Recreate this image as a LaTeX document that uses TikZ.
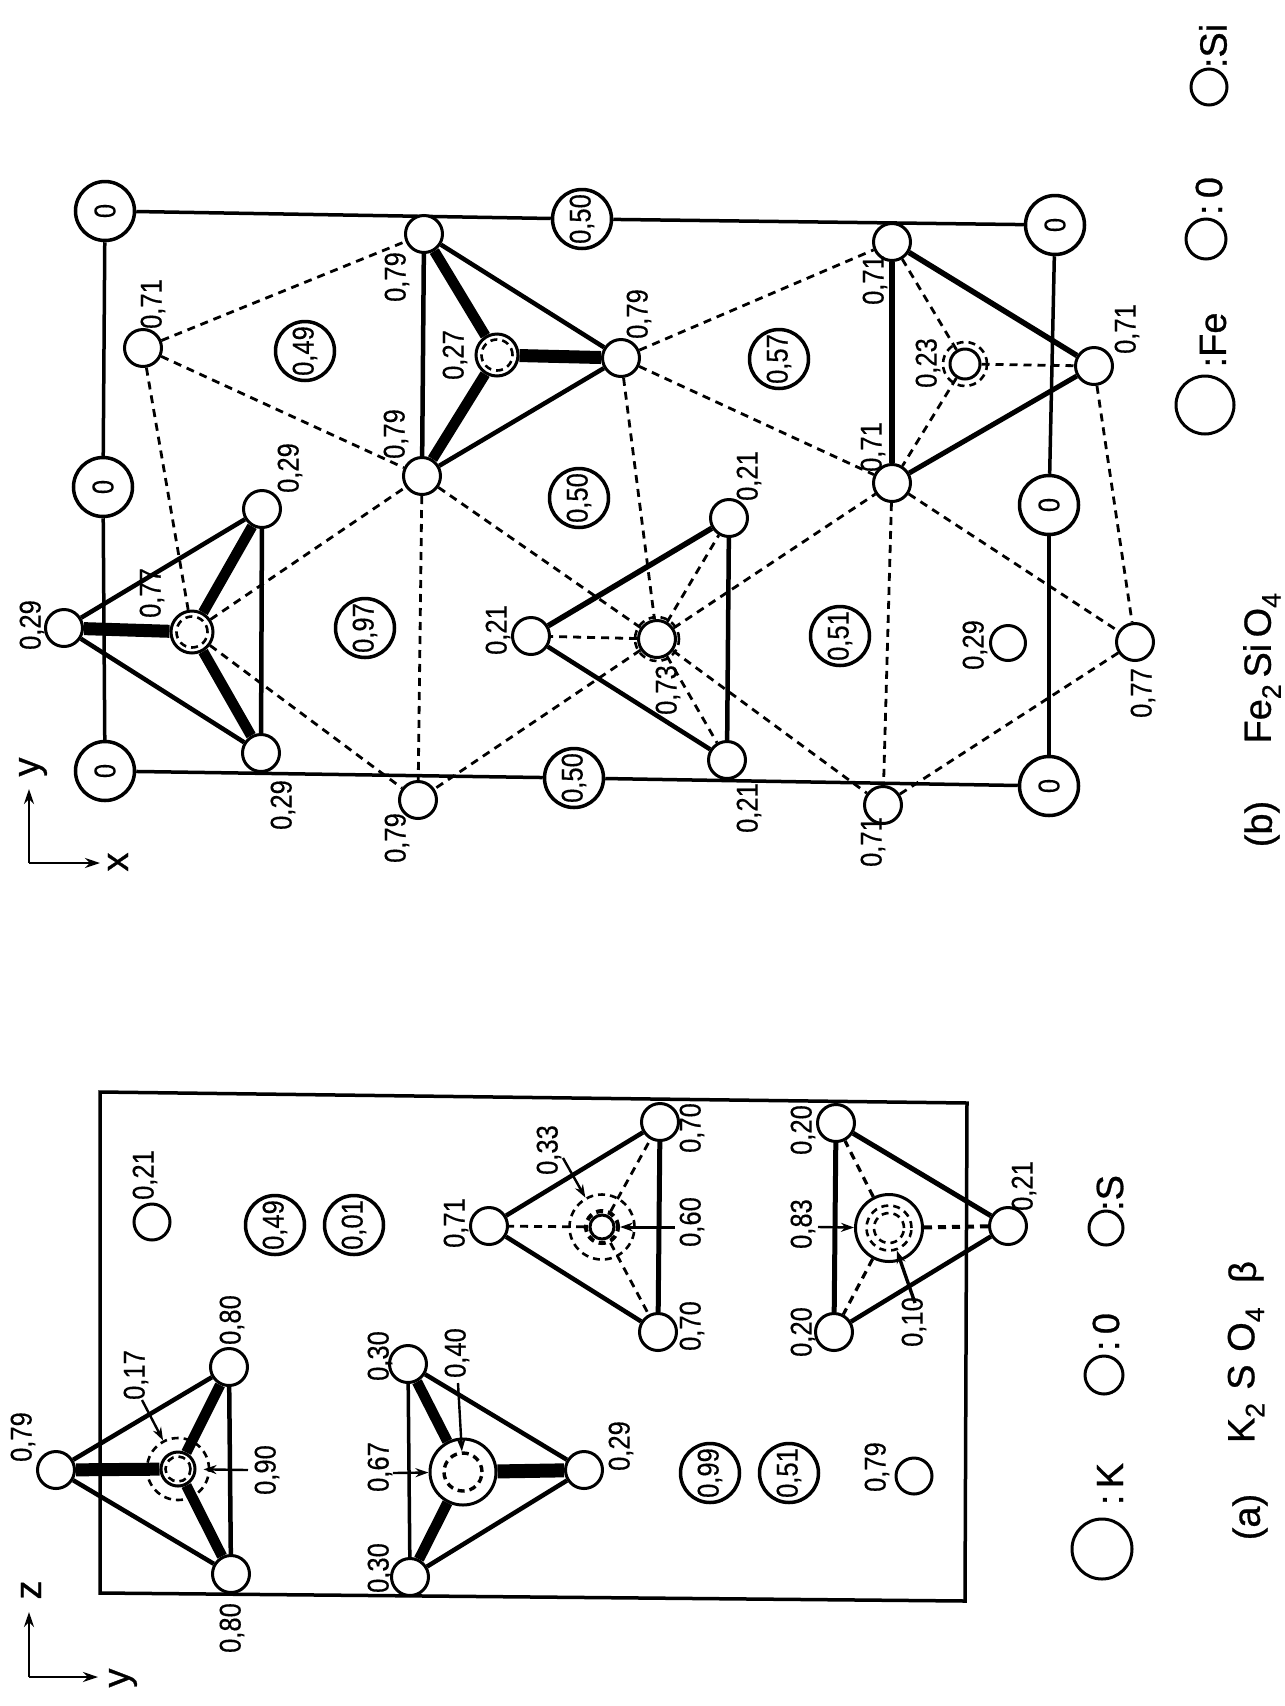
\documentclass[tikz,border=0pt]{standalone}
\usepackage{fontspec}
\usetikzlibrary{arrows.meta}
\newfontfamily\numfont[FakeStretch=0.85,FakeBold=0.4]{Liberation Sans}
\newfontfamily\capfont[FakeBold=0.7]{Liberation Sans}
\pgfdeclarelayer{back}
\pgfsetlayers{back,main}
\tikzset{
  atom/.style={circle, draw, fill=white, line width=3pt, inner sep=0pt, minimum size=37pt},
  ring/.style={circle, draw, line width=2.6pt, dash pattern=on 7pt off 5pt, inner sep=0pt},
  ion/.style={circle, draw, fill=white, line width=3.5pt, inner sep=0pt, minimum size=59pt, rotate=90, font=\numfont\fontsize{30}{30}\selectfont},
  val/.style={rotate=90, inner sep=0pt, font=\numfont\fontsize{30}{30}\selectfont},
  bigtext/.style={rotate=90, inner sep=0pt, font=\capfont\fontsize{38}{38}\selectfont},
  frame/.style={line width=3.5pt},
  side/.style={line width=4.5pt},
  bond/.style={line width=10.5pt},
  dashline/.style={line width=2.8pt, dash pattern=on 8pt off 6pt},
  pointer/.style={line width=2.4pt, -{Stealth[length=13pt,width=9pt]}},
  axis/.style={line width=2.8pt, -{Stealth[length=15pt,width=10pt]}}
}
\begin{document}
\begin{tikzpicture}[x=1pt,y=-1pt]
    \useasboundingbox (0,0) rectangle (1285,1706);
    % (b) cell
    \node[ion] (O1) at (105,211) {0};
    \node[ion] (O2) at (103,487) {0};
    \node[ion] (O3) at (105,771) {0};
    \node[ion] (O4) at (1055,225) {0};
    \node[ion] (O5) at (1049,505) {0};
    \node[ion] (O6) at (1049,786) {0};
    \node[ion] (H1) at (582,219) {0,50};
    \node[ion] (H2) at (574,778) {0,50};
    \node[ion] (H3) at (305,351) {0,49};
    \node[ion] (H4) at (779,359) {0,57};
    \node[ion] (H5) at (579,498) {0,50};
    \node[ion] (H6) at (365,628) {0,97};
    \node[ion] (H7) at (840,636) {0,51};
    \node[atom] (A1) at (143,348) {};
    \node[atom] (A2) at (424,234) {};
    \node[atom] (A3) at (621,358) {};
    \node[atom] (A4) at (422,476) {};
    \node[atom, minimum size=42pt] (A5) at (497,355) {};
    \node[ring, minimum size=31pt] (A5i) at (497,355) {};
    \node[atom] (B1) at (262,509) {};
    \node[atom] (B2) at (64,628) {};
    \node[atom, minimum size=42pt] (B3) at (192,632) {};
    \node[ring, minimum size=31pt] (B3i) at (192,632) {};
    \node[atom] (B4) at (261,753) {};
    \node[atom] (C1) at (729,518) {};
    \node[atom] (C2) at (531,636) {};
    \node[atom] (C3) at (657,639) {};
    \node[ring, minimum size=44pt] (C3o) at (657,639) {};
    \node[atom] (C4) at (727,760) {};
    \node[atom] (D1) at (418,800) {};
    \node[atom] (D2) at (883,805) {};
    \node[atom] (E1) at (892,242) {};
    \node[atom] (E2) at (1094,366) {};
    \node[atom] (E3) at (892,483) {};
    \node[atom, minimum size=30pt] (E4) at (965,364) {};
    \node[ring, minimum size=44pt] (E4o) at (965,364) {};
    \node[atom] (F1) at (1135,642) {};
    \node[atom, minimum size=35pt] (F2) at (1008,643) {};
    \begin{pgfonlayer}{back}
    \draw[frame] (O1) -- (O2);
    \draw[frame] (O2) -- (O3);
    \draw[frame] (O4) -- (O5);
    \draw[frame] (O5) -- (O6);
    \draw[frame] (O1) -- (H1);
    \draw[frame] (H1) -- (O4);
    \draw[frame] (O3) -- (H2);
    \draw[frame] (H2) -- (O6);
    \end{pgfonlayer}
    \draw[side] (A2) -- (A3);
    \draw[side] (A3) -- (A4);
    \draw[side] (A2) -- (A4);
    \draw[bond] (A5) -- (A2);
    \draw[bond, line width=13pt] (A5) -- (A3);
    \draw[bond] (A5) -- (A4);
    \draw[side] (B1) -- (B2);
    \draw[side] (B2) -- (B4);
    \draw[side] (B1) -- (B4);
    \draw[bond] (B3) -- (B1);
    \draw[bond, line width=13pt] (B3) -- (B2);
    \draw[bond] (B3) -- (B4);
    \draw[side, line width=5.5pt] (C1) -- (C2);
    \draw[side] (C2) -- (C4);
    \draw[side] (C1) -- (C4);
    \draw[side, line width=5.5pt] (E1) -- (E2);
    \draw[side, line width=5pt] (E2) -- (E3);
    \draw[side, line width=5.5pt] (E1) -- (E3);
    \draw[dashline] (C3) -- (C1);
    \draw[dashline] (C3) -- (C2);
    \draw[dashline] (C3) -- (C4);
    \draw[dashline] (E4) -- (E1);
    \draw[dashline] (E4) -- (E2);
    \draw[dashline] (E4) -- (E3);
    \draw[dashline] (A1) -- (A2);
    \draw[dashline] (A1) -- (A4);
    \draw[dashline] (A1) -- (B3);
    \draw[dashline] (B3) -- (A4);
    \draw[dashline] (B3) -- (D1);
    \draw[dashline] (A4) -- (D1);
    \draw[dashline] (A4) -- (C3);
    \draw[dashline] (A3) -- (C3);
    \draw[dashline] (A3) -- (E1);
    \draw[dashline] (A3) -- (E3);
    \draw[dashline] (C3) -- (E3);
    \draw[dashline] (C3) -- (D1);
    \draw[dashline] (C3) -- (D2);
    \draw[dashline] (E3) -- (D2);
    \draw[dashline] (E3) -- (F1);
    \draw[dashline] (E2) -- (F1);
    \draw[dashline] (F1) -- (D2);
    \node[val] (t1) at (153,304) {0,71};
    \node[val] (t2) at (397,277) {0,79};
    \node[val] (t3) at (396,434) {0,79};
    \node[val] (t4) at (639,314) {0,79};
    \node[val] (t5) at (455,355) {0,27};
    \node[val] (t6) at (875,280) {0,71};
    \node[val] (t7) at (873,447) {0,71};
    \node[val] (t8) at (1127,329) {0,71};
    \node[val] (t9) at (928,363) {0,23};
    \node[val] (t10) at (290,468) {0,29};
    \node[val] (t11) at (32,625) {0,29};
    \node[val] (t12) at (152,593) {0,77};
    \node[val] (t13) at (283,805) {0,29};
    \node[val] (t14) at (749,476) {0,21};
    \node[val] (t15) at (498,630) {0,21};
    \node[val] (t16) at (668,690) {0,73};
    \node[val] (t17) at (749,808) {0,21};
    \node[val] (t18) at (397,838) {0,79};
    \node[val] (t19) at (873,842) {0,71};
    \node[val] (t20) at (1143,693) {0,77};
    \node[val] (t21) at (975,645) {0,29};
    % (b) key
    \node[atom, minimum size=58pt] (kFe) at (1205,405) {};
    \node[bigtext] (tFe) at (1213,340) {:Fe};
    \node[atom, minimum size=40pt] (kO) at (1206,239) {};
    \node[bigtext] (tO) at (1209,196) {:\,0};
    \node[atom, minimum size=36pt] (kSi) at (1209,87) {};
    \node[bigtext] (tSi) at (1213,46) {:Si};
    \node[bigtext] (capb) at (1262,824) {(b)};
    \node[bigtext] (form) at (1262,668) {Fe\textsubscript{2}\,Si\,O\textsubscript{4}};
    % axes
    \coordinate (Cb) at (29,863);
    \coordinate (Yb) at (29,789);
    \coordinate (Xb) at (100,863);
    \draw[axis] (Cb) -- (Yb);
    \draw[axis] (Cb) -- (Xb);
    \node[bigtext] (ty) at (33,767) {y};
    \node[bigtext] (tx) at (118,862) {x};
    % (a) cell
    \coordinate (R1) at (100,1092);
    \coordinate (R2) at (967,1103);
    \coordinate (R3) at (965,1601);
    \coordinate (R4) at (100,1593);
    \begin{pgfonlayer}{back}
    \draw[frame] (R1) -- (R2) -- (R3) -- (R4) -- cycle;
    \end{pgfonlayer}
    \node[ion] (I1) at (275,1225) {0,49};
    \node[ion] (I2) at (354,1225) {0,01};
    \node[ion] (I3) at (710,1473) {0,99};
    \node[ion] (I4) at (789,1473) {0,51};
    \node[atom, minimum size=36pt] (G1) at (152,1222) {};
    \node[atom, minimum size=36pt] (G2) at (914,1476) {};
    \node[atom] (P1) at (56,1470) {};
    \node[atom] (P2) at (229,1367) {};
    \node[atom] (P3) at (231,1574) {};
    \node[ring, minimum size=62pt] (P4o) at (178,1469) {};
    \node[atom, minimum size=34pt] (P4) at (178,1469) {};
    \node[ring, minimum size=25pt] (P4i) at (178,1469) {};
    \node[atom] (Q1) at (408,1364) {};
    \node[atom] (Q2) at (410,1577) {};
    \node[atom] (Q3) at (584,1470) {};
    \node[atom, minimum size=66pt] (Q4) at (463,1472) {};
    \node[ring, minimum size=38pt, line width=3.4pt] (Q4i) at (463,1472) {};
    \node[atom] (S1) at (489,1226) {};
    \node[atom] (S2) at (660,1122) {};
    \node[atom] (S3) at (658,1332) {};
    \node[ring, minimum size=65pt] (S4o) at (602,1227) {};
    \node[ring, minimum size=32pt, line width=4pt] (S4i) at (602,1227) {};
    \node[atom, minimum size=24pt] (S4) at (602,1227) {};
    \node[atom] (U1) at (836,1123) {};
    \node[atom] (U2) at (834,1332) {};
    \node[atom] (U3) at (1008,1226) {};
    \node[atom, minimum size=67pt] (U4) at (889,1228) {};
    \node[ring, minimum size=45pt] (U4m) at (889,1228) {};
    \node[ring, minimum size=30pt] (U4i) at (889,1228) {};
    \draw[side] (P1) -- (P2);
    \draw[side] (P1) -- (P3);
    \draw[side] (P2) -- (P3);
    \draw[bond] (P4) -- (P2);
    \draw[bond, line width=13pt] (P4) -- (P1);
    \draw[bond] (P4) -- (P3);
    \draw[side, line width=3.5pt] (Q1) -- (Q2);
    \draw[side] (Q1) -- (Q3);
    \draw[side] (Q2) -- (Q3);
    \draw[bond] (Q4) -- (Q1);
    \draw[bond] (Q4) -- (Q2);
    \draw[bond, line width=14pt] (Q4) -- (Q3);
    \draw[side] (S1) -- (S2);
    \draw[side] (S1) -- (S3);
    \draw[side, line width=5pt] (S2) -- (S3);
    \draw[dashline] (S4i) -- (S1);
    \draw[dashline] (S4i) -- (S2);
    \draw[dashline] (S4i) -- (S3);
    \draw[side, line width=5pt] (U1) -- (U2);
    \draw[side, line width=5pt] (U1) -- (U3);
    \draw[side] (U2) -- (U3);
    \draw[dashline, line width=3.2pt] (U4) -- (U1);
    \draw[dashline, line width=3.2pt] (U4) -- (U2);
    \draw[dashline, line width=4pt] (U4) -- (U3);
    % pointers
    \coordinate (n17) at (142,1400);
    \coordinate (n90) at (248,1470);
    \coordinate (n67) at (393,1473);
    \coordinate (n40) at (458,1383);
    \coordinate (n33) at (563,1158);
    \coordinate (n60) at (675,1227);
    \coordinate (n83) at (818,1227);
    \coordinate (n10) at (915,1303);
    \draw[pointer] (n17) -- (P4o);
    \draw[pointer, shorten >=7pt] (n90) -- (P4);
    \draw[pointer] (n67) -- (Q4);
    \draw[pointer] (n40) -- (Q4i);
    \draw[pointer] (n33) -- (S4o);
    \draw[pointer, line width=3pt] (n60) -- (S4i);
    \draw[pointer] (n83) -- (U4);
    \draw[pointer, line width=3.4pt] (n10) -- (U4m);
    \node[val] (v1) at (23,1437) {0,79};
    \node[val] (v2) at (232,1320) {0,80};
    \node[val] (v3) at (136,1375) {0,17};
    \node[val] (v4) at (267,1470) {0,90};
    \node[val] (v5) at (232,1628) {0,80};
    \node[val] (v6) at (380,1356) {0,30};
    \node[val] (v7) at (457,1353) {0,40};
    \node[val] (v8) at (380,1467) {0,67};
    \node[val] (v9) at (621,1446) {0,29};
    \node[val] (v10) at (380,1568) {0,30};
    \node[val] (v11) at (877,1467) {0,79};
    \node[val] (v12) at (456,1223) {0,71};
    \node[val] (v13) at (549,1150) {0,33};
    \node[val] (v14) at (692,1222) {0,60};
    \node[val] (v15) at (692,1128) {0,70};
    \node[val] (v16) at (692,1326) {0,70};
    \node[val] (v17) at (803,1130) {0,20};
    \node[val] (v18) at (803,1224) {0,83};
    \node[val] (v19) at (803,1332) {0,20};
    \node[val] (v20) at (914,1322) {0,10};
    \node[val] (v21) at (1024,1186) {0,21};
    \node[val] (v22) at (145,1175) {0,21};
    % (a) key
    \node[atom, minimum size=60pt] (kK) at (1102,1549) {};
    \node[bigtext] (tK) at (1110,1484) {:\,K};
    \node[atom, minimum size=38pt] (kOa) at (1104,1375) {};
    \node[bigtext] (tOa) at (1106,1332) {:\,0};
    \node[atom, minimum size=34pt] (kS) at (1106,1228) {};
    \node[bigtext] (tS) at (1110,1193) {:S};
    \node[bigtext] (capa) at (1250,1517) {(a)};
    \node[bigtext] (forma) at (1246,1375) {K\textsubscript{2}\,\,S\,\,O\textsubscript{4}};
    \node[bigtext] (beta) at (1246,1272) {β};
    % axes
    \coordinate (Ca) at (29,1677);
    \coordinate (Za) at (29,1612);
    \coordinate (Ya) at (98,1677);
    \draw[axis] (Ca) -- (Za);
    \draw[axis] (Ca) -- (Ya);
    \node[bigtext] (tz) at (31,1590) {z};
    \node[bigtext] (tya) at (123,1678) {y};
\end{tikzpicture}
\end{document}
